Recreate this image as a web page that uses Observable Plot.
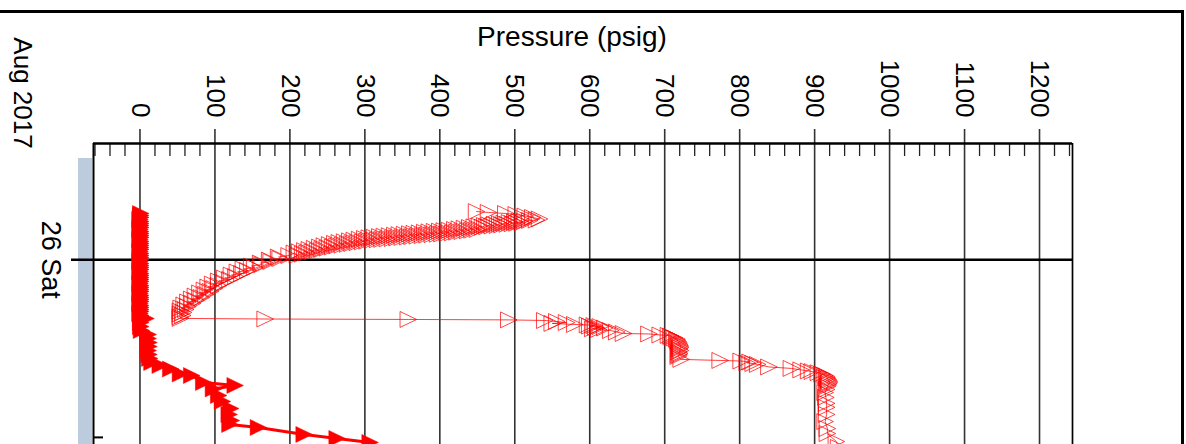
<!DOCTYPE html>
<html>
<head>
<meta charset="utf-8">
<script src="https://cdn.jsdelivr.net/npm/d3@7"></script>
<script src="https://cdn.jsdelivr.net/npm/@observablehq/plot@0.6"></script>
<style>
  html, body { margin: 0; padding: 0; background: #fff; }
  body { width: 1186px; height: 444px; overflow: hidden; position: relative; font-family: "Liberation Sans", Arial, sans-serif; }
  #chart svg { display: block; }
  #border { position: absolute; left: -10px; top: 10px; width: 1194px; height: 500px; box-sizing: border-box;
            border-top: 3px solid #000; border-right: 3px solid #000; pointer-events: none; }
</style>
</head>
<body>
<div id="chart"></div>
<div id="border"></div>
<script>
// ---- Data (hours relative to 26 Aug 2017 00:00, pressure in psig) ----
const axisTitle = "Pressure (psig)";
const monthLabel = "Aug 2017";
const dayTicks = [0];
const dayLabels = ["26 Sat"];
const minorTimeTicks = [12];
const pressureTicks = [0, 100, 200, 300, 400, 500, 600, 700, 800, 900, 1000, 1100, 1200];
const pressureMinorTicks = [-60, -40, -20, 20, 40, 60, 80, 120, 140, 160, 180, 220, 240, 260, 280,
  320, 340, 360, 380, 420, 440, 460, 480, 520, 540, 560, 580, 620, 640, 660, 680,
  720, 740, 760, 780, 820, 840, 860, 880, 920, 940, 960, 980, 1020, 1040, 1060, 1080,
  1120, 1140, 1160, 1180, 1220, 1240];
const pressureDomain = [-62, 1244];
const timeDomain = [-7.86, 12.48];
const coverageStart = -6.84;

// Series 1 (filled triangles)
const s1Hours = [-3.13, -2.99, -2.86, -2.72, -2.59, -2.45, -2.32, -2.18, -2.05, -1.91, -1.78, -1.64,
  -1.51, -1.37, -1.24, -1.10, -0.97, -0.83, -0.70, -0.56, -0.43, -0.29, -0.16, -0.02, 0.11, 0.25,
  0.39, 0.52, 0.66, 0.79, 0.93, 1.06, 1.20, 1.33, 1.47, 1.60, 1.74, 1.87, 2.01, 2.14, 2.28, 2.41,
  2.55, 2.68, 2.82, 2.95, 3.09, 3.22, 3.36, 3.49, 3.63, 3.76,
  3.97, 4.24, 4.51, 4.78, 5.05, 5.32, 5.59, 5.86, 6.13, 6.40,
  6.67, 6.94, 7.14, 7.38, 7.72, 7.82, 8.29, 8.49, 8.73, 9.17, 9.57, 10.05, 10.45, 10.86, 11.13,
  11.33, 11.80, 12.07, 12.34, 13.20];
const s1Psi = [1, 1, 1, 0, 1, 1, 1, 1, 0, 1, 1, 1,
  1, 0, 1, 1, 1, 1, 1, 0, 1, 1, 1, 1, 0, 1,
  1, 1, 1, 0, 1, 1, 1, 1, 1, 0, 1, 1, 1, 1, 0, 1,
  1, 1, 1, 0, 1, 1, 1, 1, 0, 1,
  8, 1, 1, 2, 11, 11, 12, 12, 11, 12,
  13, 16, 27, 41, 54, 69, 85, 127, 98, 105, 110, 121, 119, 122, 120,
  158, 219, 263, 307, 330];

// Series 2 (open triangles)
const s2Hours = [-3.26, -3.20, -3.13, -3.06, -2.96, -2.86, -2.76, -2.69, -2.66,
  -2.62, -2.50, -2.59, -2.47, -2.56, -2.44, -2.52, -2.40, -2.48, -2.36, -2.44, -2.32, -2.40, -2.28,
  -2.36, -2.24, -2.32, -2.20, -2.28, -2.05, -2.23, -2.00, -2.18, -1.96, -2.14, -1.91, -2.09, -1.87,
  -2.05, -1.82, -2.00, -1.78, -1.97, -1.75, -1.94, -1.73, -1.92, -1.70, -1.89, -1.67, -1.86, -1.64,
  -1.82, -1.60, -1.79, -1.57, -1.76, -1.54, -1.73, -1.51, -1.70, -1.48, -1.66, -1.44, -1.63, -1.41,
  -1.60, -1.38, -1.57, -1.35, -1.53, -1.31, -1.49, -1.26, -1.44, -1.21, -1.39, -1.16, -1.33, -1.10,
  -1.28, -1.05, -1.22, -0.99, -1.17, -0.94, -1.11, -0.87, -1.03, -0.79, -0.95, -0.70, -0.86, -0.62,
  -0.78, -0.54, -0.70, -0.46, -0.62, -0.38, -0.54, -0.30, -0.46,
  -0.29, -0.19, -0.09, 0.01, 0.11, 0.22, 0.32, 0.42, 0.52, 0.62, 0.72, 0.82, 0.93, 1.03, 1.13, 1.23,
  1.33, 1.43, 1.53, 1.64, 1.74, 1.84, 1.94, 2.04, 2.14, 2.24, 2.34, 2.45, 2.55, 2.65, 2.75, 2.85,
  2.95, 3.05, 3.16, 3.26, 3.36, 3.46, 3.56, 3.66, 3.76, 3.86, 3.96,
  4.00, 4.03, 4.06, 4.10, 4.17, 4.24, 4.30, 4.37, 4.40, 4.44, 4.48, 4.51, 4.56, 4.61, 4.66, 4.71, 4.78,
  4.88, 4.98, 5.01, 5.08,
  5.11, 5.16, 5.22, 5.28, 5.35, 5.43, 5.52, 5.62, 5.72, 5.83, 5.93, 6.03, 6.13, 6.23, 6.33, 6.43, 6.53, 6.73,
  6.80, 6.84, 6.91, 6.96, 7.01, 7.07, 7.24, 7.34, 7.44, 7.51, 7.55, 7.63, 7.72, 7.82, 7.90, 7.99, 8.08,
  8.16, 8.26, 8.36, 8.46, 8.56, 8.76, 8.97, 9.30, 9.70, 9.97, 10.45, 10.93, 11.40, 11.74, 12.28, 12.68];
const s2Psi = [449, 465, 488, 502, 514, 524, 533, 529, 520,
  513, 510, 506, 503, 500, 497, 493, 490, 486, 483, 480, 477, 473, 470,
  466, 463, 460, 457, 453, 450, 446, 443, 440, 437, 433, 430, 426, 423,
  420, 417, 413, 410, 406, 403, 400, 397, 393, 390, 386, 383, 380, 377,
  373, 370, 366, 363, 360, 357, 353, 350, 346, 343, 340, 337, 333, 330,
  326, 323, 320, 317, 313, 310, 306, 303, 300, 297, 293, 290, 286, 283,
  280, 277, 273, 270, 266, 263, 260, 257, 253, 250, 246, 243, 240, 237,
  233, 230, 226, 223, 220, 217, 213, 210, 206,
  199, 185, 187, 173, 175, 161, 163, 149, 153, 138, 144, 130, 136, 122, 128, 113,
  120, 105, 112, 97, 105, 91, 99, 86, 94, 80, 88, 74, 82, 69, 75, 64,
  70, 59, 64, 55, 61, 54, 58, 54, 57, 54, 54,
  167, 358, 492, 540, 556, 569, 550, 580, 597, 606, 600, 614, 608, 620, 604, 612, 628,
  636, 645, 679, 694,
  705, 708, 710, 713, 716, 717, 718, 719, 720, 721, 721, 720, 721, 719, 720, 719, 718, 722,
  774, 802, 814, 810, 818, 824, 839, 869, 882, 892, 897, 905, 910, 914, 916, 917, 918,
  919, 920, 919, 918, 917, 916, 914, 915, 916, 916, 916, 914, 917, 917, 929, 932];

const series1 = s1Hours.map((h, i) => ({hour: h, psi: s1Psi[i]}));
const series2 = s2Hours.map((h, i) => ({hour: h, psi: s2Psi[i]}));

// right-pointing triangle symbol
const triRight = {
  draw(ctx, size) {
    const r = Math.sqrt(size / Math.PI);
    ctx.moveTo(-r, -r * 0.96);
    ctx.lineTo(r, 0);
    ctx.lineTo(-r, r * 0.96);
    ctx.closePath();
  }
};

const font = "Liberation Sans, Arial, sans-serif";

const chart = Plot.plot({
  width: 1186,
  height: 444,
  marginTop: 143,
  marginLeft: 93,
  marginRight: 114,
  marginBottom: 0,
  style: {background: "white", fontFamily: font, color: "black"},
  x: {domain: pressureDomain, axis: null},
  y: {domain: timeDomain, reverse: true, axis: null},
  marks: [
    // data coverage bar
    Plot.ruleX([coverageStart], {x: () => pressureDomain[0], y1: d => d, y2: () => timeDomain[1],
      dx: -8.5, stroke: "#bccbdd", strokeWidth: 14}),
    // vertical grid + outward major ticks
    Plot.ruleX(pressureTicks, {x: d => d, stroke: "#333", strokeWidth: 1.6, insetTop: -14}),
    // inward minor ticks
    Plot.ruleX(pressureMinorTicks, {x: d => d, stroke: "#222", strokeWidth: 1.3, insetBottom: 288}),
    // day gridline
    Plot.ruleY(dayTicks, {y: d => d, stroke: "#000", strokeWidth: 2.5, insetLeft: -22}),
    // minor time tick
    Plot.ruleY(minorTimeTicks, {y: d => d, stroke: "#000", strokeWidth: 2, insetRight: 969}),
    // frame
    Plot.ruleX([pressureDomain[0]], {x: d => d, stroke: "#000", strokeWidth: 2}),
    Plot.ruleX([pressureDomain[1]], {x: d => d, stroke: "#000", strokeWidth: 1.7}),
    Plot.ruleY([timeDomain[0]], {y: d => d, stroke: "#000", strokeWidth: 2.3}),
    // series 2
    Plot.line(series2, {x: "psi", y: "hour", stroke: "red", strokeWidth: 1, strokeOpacity: 0.75, clip: true}),
    Plot.dot(series2, {x: "psi", y: "hour", symbol: triRight, r: 8.3, fill: "none", stroke: "red",
      strokeWidth: 1, strokeOpacity: 0.72, clip: true}),
    // series 1
    Plot.line(series1, {x: "psi", y: "hour", stroke: "red", strokeWidth: 3, clip: true}),
    Plot.dot(series1, {x: "psi", y: "hour", symbol: triRight, r: 8.3, fill: "red", stroke: "red",
      strokeWidth: 0.5, clip: true}),
    // pressure tick labels
    Plot.text(pressureTicks, {x: d => d, text: d => String(d), frameAnchor: "top", dy: -26, rotate: 90,
      textAnchor: "end", lineAnchor: "middle", fontSize: 26, fill: "#000"}),
    // axis title
    Plot.text([axisTitle], {text: d => d, frameAnchor: "top", dx: -11, dy: -117, fontSize: 28, fill: "#000"}),
    // time labels
    Plot.text(dayTicks, {y: d => d, text: (d, i) => dayLabels[i], frameAnchor: "left", dx: -43, rotate: 90,
      textAnchor: "middle", lineAnchor: "middle", fontSize: 27, fill: "#000"}),
    Plot.text([monthLabel], {text: d => d, frameAnchor: "top-left", dx: -71, dy: -50.5, rotate: 90,
      textAnchor: "middle", lineAnchor: "middle", fontSize: 26, fill: "#000"})
  ]
});
document.getElementById("chart").appendChild(chart);
</script>
</body>
</html>
